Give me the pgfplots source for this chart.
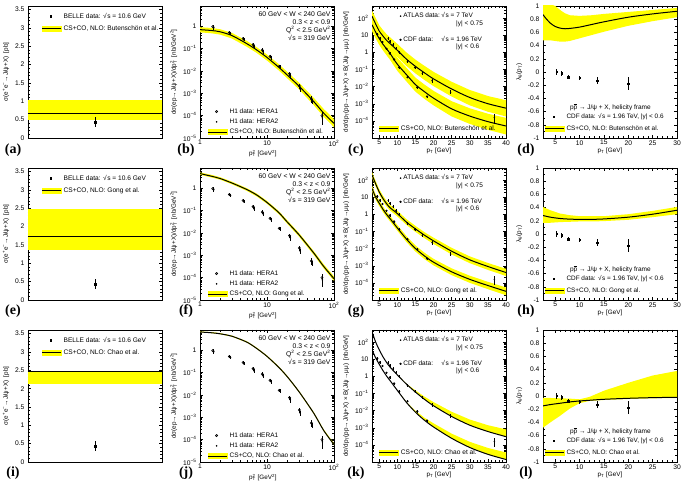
\documentclass[border=0pt]{standalone}
\usepackage{fontspec}
\setmainfont{Liberation Sans}
\newfontfamily\serifbf{Liberation Serif}
\usepackage{pgfplots}
\pgfplotsset{compat=1.18}
\usepackage{pgfplotstable}
\definecolor{bandyellow}{rgb}{1,1,0}
\newcommand{\pbar}{\mbox{$\overline{\mbox{p}}$}}
\newcommand{\ptsq}{p\rlap{\textsuperscript{2}}\textsubscript{T}}
\newcommand{\rts}{√\kern0.6pt s}

% ---------- e+e- : constant predictions ----------
\pgfplotstableread{
x c
0 0.68
1 0.68
}\thA
\pgfplotstableread{
x y
0 0.50
1 0.50
1 1.03
0 1.03
}\bdA
\pgfplotstableread{
x c
0 1.73
1 1.73
}\thE
\pgfplotstableread{
x y
0 1.37
1 1.37
1 2.48
0 2.48
}\bdE
\pgfplotstableread{
x c
0 2.46
1 2.46
}\thI
\pgfplotstableread{
x y
0 2.13
1 2.13
1 2.46
0 2.46
}\bdI
\pgfplotstableread{
x y e
0.5 0.43 0.13
}\belle

% ---------- photoproduction ----------
\pgfplotstableread{
x c
1 0.70
1.5 0.64
2 0.56
3 0.38
5 0.165
7 0.087
10 0.040
15 0.0145
20 0.0066
30 0.0021
50 0.00042
70 0.00013
100 0.000045
}\thB
\pgfplotstableread{
x y
1 0.90
1.5 0.83
2 0.73
3 0.50
5 0.22
7 0.115
10 0.054
15 0.020
20 0.0092
30 0.0030
50 0.00062
70 0.00020
100 0.00007
100 0.00003
70 0.00009
50 0.00029
30 0.0015
20 0.0047
15 0.0105
10 0.029
7 0.064
5 0.12
3 0.28
2 0.42
1.5 0.48
1 0.53
}\bdB
\pgfplotstableread{
x c
1 4.5
1.5 3.4
2 2.7
3 1.7
5 0.87
7 0.50
10 0.23
15 0.081
20 0.031
30 0.0083
50 0.00125
70 0.00032
100 0.00009
}\thF
\pgfplotstableread{
x y
1 5.1
1.5 3.9
2 3.1
3 1.95
5 1.0
7 0.58
10 0.27
15 0.095
20 0.037
30 0.0100
50 0.00152
70 0.00040
100 0.000112
100 0.000072
70 0.00026
50 0.00102
30 0.0069
20 0.026
15 0.069
10 0.20
7 0.43
5 0.76
3 1.5
2 2.4
1.5 3.0
1 4.0
}\bdF
\pgfplotstableread{
x c
1 6.5
1.5 6.0
2 5.4
3 4.2
5 2.3
7 1.2
10 0.53
15 0.17
20 0.066
30 0.014
50 0.0015
70 0.00026
100 0.00006
}\thJ
\pgfplotstableread{
x y
1 6.9
1.5 6.4
2 5.8
3 4.5
5 2.5
7 1.32
10 0.58
15 0.19
20 0.073
30 0.0155
50 0.00168
70 0.00029
100 0.000068
100 0.000055
70 0.00024
50 0.0014
30 0.013
20 0.062
15 0.16
10 0.50
7 1.15
5 2.2
3 4.0
2 5.2
1.5 5.8
1 6.3
}\bdJ
\pgfplotstableread{
x y e
1.55 0.95 0.20
2.75 0.52 0.09
4.4 0.28 0.05
6.2 0.15 0.03
8.5 0.085 0.018
11.1 0.045 0.009
15.2 0.016 0.003
21.7 0.0075 0.0018
30.4 0.0021 0.0006
46 0.00055 0.00018
66 0.00010 0.00005
}\hone
\pgfplotstableread{
x y e
1.6 0.85 0.15
2.85 0.46 0.07
4.5 0.25 0.04
6.4 0.12 0.025
8.8 0.07 0.015
11.4 0.040 0.008
15.6 0.015 0.003
22.3 0.006 0.0015
31 0.0016 0.0004
47 0.00045 0.00012
67 0.00008 0.00004
}\htwo

% ---------- hadroproduction: upper = ATLAS 7 TeV, lower = CDF 1.96 TeV ----------
\pgfplotstableread{
x c
3 126
4 45
5 17
6 9
7 5
8 3.2
10 1.3
12.5 0.40
15 0.15
17.5 0.063
20 0.028
25 0.0072
30 0.0023
35 0.0010
40 0.00055
}\thCu
\pgfplotstableread{
x y
3 270
4 100
5 38
6 20
7 11.5
8 7.4
10 3.1
12.5 0.98
15 0.37
17.5 0.16
20 0.072
25 0.019
30 0.0063
35 0.0028
40 0.0016
40 0.00018
35 0.00034
30 0.0008
25 0.0026
20 0.0105
17.5 0.024
15 0.058
12.5 0.16
10 0.53
8 1.35
7 2.1
6 3.9
5 7.5
4 20
3 55
}\bdCu
\pgfplotstableread{
x c
3 40
4 15
5 6.3
6 3.0
7 1.6
8 0.85
10 0.20
12.5 0.05
15 0.013
17.5 0.005
20 0.0021
25 0.0005
30 0.00019
35 0.00009
40 0.00005
}\thCl
\pgfplotstableread{
x y
3 90
4 34
5 14
6 6.8
7 3.7
8 2.0
10 0.48
12.5 0.125
15 0.033
17.5 0.013
20 0.0056
25 0.0014
30 0.00054
35 0.00026
40 0.00015
40 0.000016
35 0.00003
30 0.000066
25 0.00018
20 0.0008
17.5 0.0019
15 0.005
12.5 0.020
10 0.082
8 0.36
7 0.68
6 1.3
5 2.7
4 6.5
3 17
}\bdCl
\pgfplotstableread{
x c
3 200
4 60
5 20
6 8.5
7 4.2
8 2.4
10 1.1
12.5 0.35
15 0.14
17.5 0.06
20 0.028
25 0.007
30 0.0022
35 0.0009
40 0.0004
}\thGu
\pgfplotstableread{
x y
3 290
4 87
5 29
6 12.3
7 6.1
8 3.5
10 1.6
12.5 0.52
15 0.21
17.5 0.09
20 0.043
25 0.011
30 0.0035
35 0.00145
40 0.00066
40 0.00025
35 0.00057
30 0.0014
25 0.0045
20 0.0185
17.5 0.04
15 0.094
12.5 0.24
10 0.75
8 1.65
7 2.9
6 5.9
5 14
4 42
3 140
}\bdGu
\pgfplotstableread{
x c
3 32
4 10
5 4.4
6 2.0
7 1.0
8 0.55
10 0.16
12.5 0.036
15 0.010
17.5 0.0037
20 0.0016
25 0.00044
30 0.00016
35 0.00007
40 0.000032
}\thGl
\pgfplotstableread{
x y
3 46
4 14.5
5 6.4
6 2.9
7 1.45
8 0.8
10 0.235
12.5 0.054
15 0.0152
17.5 0.0057
20 0.0025
25 0.0007
30 0.00026
35 0.000115
40 0.000054
40 0.000019
35 0.000043
30 0.0001
25 0.00028
20 0.00104
17.5 0.0024
15 0.0067
12.5 0.024
10 0.11
8 0.38
7 0.69
6 1.38
5 3.05
4 7
3 22
}\bdGl
\pgfplotstableread{
x c
3 400
4 100
5 35
6 14
7 6.5
8 3.4
10 1.2
12.5 0.35
15 0.12
17.5 0.045
20 0.019
25 0.0045
30 0.0014
35 0.0006
40 0.0003
}\thKu
\pgfplotstableread{
x y
10 1.2
12.5 0.37
15 0.15
17.5 0.065
20 0.031
25 0.0085
30 0.003
35 0.0014
40 0.0008
40 0.0003
35 0.0006
30 0.0014
25 0.0045
20 0.019
17.5 0.045
15 0.12
12.5 0.35
10 1.2
}\bdKu
\pgfplotstableread{
x c
3 35
4 12
5 5
6 2.2
7 1.05
8 0.55
10 0.15
12.5 0.03
15 0.008
17.5 0.0027
20 0.0011
25 0.00024
30 0.00007
35 0.000028
40 0.000014
}\thKl
\pgfplotstableread{
x y
10 0.15
12.5 0.032
15 0.0098
17.5 0.0038
20 0.0018
25 0.00045
30 0.00015
35 0.000066
40 0.000036
40 0.000014
35 0.000028
30 0.00007
25 0.00024
20 0.0011
17.5 0.0027
15 0.008
12.5 0.03
10 0.15
}\bdKl
\pgfplotstableread{
x y e
7.5 6.3 1.3
7.9 4.4 0.9
8.85 2.75 0.55
9.6 1.6 0.3
10.5 1.0 0.2
12.8 0.30 0.06
14.8 0.13 0.026
16.9 0.058 0.012
19.6 0.022 0.005
24.7 0.0047 0.0012
36.8 0.00016 0.00008
}\atlas
\pgfplotstableread{
x y e
4.45 11 2
5.2 6.5 1.1
5.9 4.0 0.6
7.0 1.6 0.25
7.9 0.85 0.12
9.1 0.38 0.05
10.5 0.13 0.02
12.8 0.035 0.005
15.5 0.009 0.0015
18.2 0.0026 0.0004
}\cdf

% ---------- polarization ----------
\pgfplotstableread{
x c
2.5 0.87
3 0.82
4 0.74
5 0.69
6 0.665
7 0.655
8 0.66
10 0.68
12.5 0.72
15 0.76
20 0.83
25 0.88
30 0.92
}\thD
\pgfplotstableread{
x y
2.5 1.05
3 1.05
4 1.03
5 1.0
6 0.94
7 0.89
8 0.86
10 0.85
12.5 0.86
15 0.88
20 0.91
25 0.94
30 0.97
30 0.83
25 0.77
20 0.70
15 0.61
12.5 0.56
10 0.51
8 0.47
7 0.46
6 0.46
5 0.47
4 0.48
3 0.48
2.5 0.48
}\bdD
\pgfplotstableread{
x c
2.5 0.28
4 0.255
6 0.235
8 0.225
10 0.222
12.5 0.222
15 0.228
20 0.255
25 0.30
30 0.36
}\thH
\pgfplotstableread{
x y
2.5 0.41
4 0.36
6 0.31
8 0.285
10 0.27
12.5 0.27
15 0.27
20 0.30
25 0.35
30 0.41
30 0.30
25 0.255
20 0.215
15 0.195
12.5 0.19
10 0.19
8 0.185
6 0.18
4 0.17
2.5 0.17
}\bdH
\pgfplotstableread{
x c
2.5 -0.15
4 -0.13
6 -0.11
8 -0.09
10 -0.075
12 -0.065
15 -0.05
20 -0.035
25 -0.025
30 -0.02
}\thL
\pgfplotstableread{
x y
2.5 -0.03
4 -0.03
6 -0.035
8 -0.04
10 -0.05
12 -0.015
15 0.08
20 0.20
25 0.31
30 0.38
30 -0.03
25 -0.035
20 -0.045
15 -0.06
12 -0.075
10 -0.11
8 -0.19
6 -0.30
4 -0.40
2.5 -0.48
}\bdL
\pgfplotstableread{
x y e
5.3 0.00 0.04
6.3 -0.02 0.04
7.7 -0.08 0.03
10.0 -0.09 0.03
13.6 -0.13 0.05
20.0 -0.18 0.10
}\pol

\pgfplotsset{
  panel/.style={
    scale only axis, width=134pt, height=132pt, anchor=north west,
    tick label style={font=\fontsize{6.7}{7.5}\selectfont},
    xticklabel style={yshift=1.2pt},
    label style={font=\fontsize{6.3}{7}\selectfont},
    /pgf/number format/assume math mode=true,
    major tick length=3pt, minor tick length=1.6pt,
    every tick/.style={black, line width=0.4pt},
    axis line style={line width=0.6pt},
    legend style={draw=none, fill=none, font=\fontsize{6.6}{7.6}\selectfont, inner sep=0pt, row sep=1.5pt},
    legend cell align=left,
    xlabel style={at={(axis description cs:0.5,-0.072)}, anchor=north, inner sep=0pt},
    ylabel style={yshift=-1pt},
  },
  bandleg/.style={legend image code/.code={\fill[bandyellow] (0pt,-2.4pt) rectangle (19pt,2.4pt); \draw[black, line width=1pt] (0pt,0pt) -- (19pt,0pt);}},
  th/.style={black, line width=1pt, smooth, forget plot},
  pts/.style={only marks, black, forget plot, error bars/y dir=both, error bars/y explicit, error bars/error mark=none, error bars/error bar style={line width=0.45pt, black}},
  bellepanel/.style={panel, xmin=0, xmax=1, ymin=0, ymax=3.6, xtick=\empty,
    ytick={0,0.5,1,1.5,2,2.5,3,3.5}, minor y tick num=4,
    ylabel={σ(e\textsuperscript{+}e\textsuperscript{−}→J/ψ+X)\ \ [pb]},
    legend style={at={(0.1,0.965)}, anchor=north west, row sep=2pt}},
  hpanel/.style={panel,
    xmin=1, xmax=100, ymin=1e-5, ymax=8, xtick={1,10,100},
    xticklabels={1,10,10\textsuperscript{2}},
    ytick={1e-5,1e-4,1e-3,1e-2,1e-1,1},
    yticklabels={10\textsuperscript{−5},10\textsuperscript{−4},10\textsuperscript{−3},10\textsuperscript{−2},10\textsuperscript{−1},1},
    minor xtick={2,3,4,5,6,7,8,9,20,30,40,50,60,70,80,90},
    minor ytick={2e-5,3e-5,4e-5,5e-5,6e-5,7e-5,8e-5,9e-5,2e-4,3e-4,4e-4,5e-4,6e-4,7e-4,8e-4,9e-4,0.002,0.003,0.004,0.005,0.006,0.007,0.008,0.009,0.02,0.03,0.04,0.05,0.06,0.07,0.08,0.09,0.2,0.3,0.4,0.5,0.6,0.7,0.8,0.9,2,3,4,5,6,7},
    xlabel={\ptsq\ [GeV\textsuperscript{2}]},
    xlabel style={at={(axis description cs:0.47,-0.09)}},
    ylabel={dσ(ep→J/ψ+X)/d\ptsq\ \ [nb/GeV\textsuperscript{2}]},
    legend style={at={(0.055,0.005)}, anchor=south west, row sep=0pt, font=\fontsize{6.5}{7.2}\selectfont}},
  ppanel/.style={panel, xmin=3, xmax=40, ymin=1e-5, ymax=500,
    xtick={5,10,15,20,25,30,35,40}, minor x tick num=4,
    ytick={1e-4,1e-3,1e-2,1e-1,1,10,100},
    yticklabels={10\textsuperscript{−4},10\textsuperscript{−3},10\textsuperscript{−2},10\textsuperscript{−1},1,10,10\textsuperscript{2}},
    minor ytick={2e-5,3e-5,4e-5,5e-5,6e-5,7e-5,8e-5,9e-5,2e-4,3e-4,4e-4,5e-4,6e-4,7e-4,8e-4,9e-4,0.002,0.003,0.004,0.005,0.006,0.007,0.008,0.009,0.02,0.03,0.04,0.05,0.06,0.07,0.08,0.09,0.2,0.3,0.4,0.5,0.6,0.7,0.8,0.9,2,3,4,5,6,7,8,9,20,30,40,50,60,70,80,90,200,300,400},
    xlabel={p\textsubscript{T} [GeV]},
    ylabel={dσ/dp\textsubscript{T}(pp→J/ψ+X) × B(J/ψ→μμ)\ \ [nb/GeV]},
    legend style={at={(0.205,0.965)}, anchor=north west, row sep=13pt, font=\fontsize{6.5}{7.5}\selectfont}},
  legpanel/.style={panel, hide axis, xmin=0, xmax=1, ymin=0, ymax=1,
    legend style={at={(0.05,0.03)}, anchor=south west}},
  lpanel/.style={panel, xmin=2.5, xmax=30, ymin=-1, ymax=1,
    xtick={5,10,15,20,25,30}, minor x tick num=4,
    ytick={-1,-0.8,-0.6,-0.4,-0.2,0,0.2,0.4,0.6,0.8,1}, minor y tick num=1,
    xlabel={p\textsubscript{T} [GeV]},
    ylabel={λ\textsubscript{θ}(p\textsubscript{T})},
    legend style={at={(0.01,0.03)}, anchor=south west, row sep=2pt, font=\fontsize{6.4}{7.4}\selectfont}},
}

\newcommand{\bandplot}[2]{%
  \addplot[fill=bandyellow, draw=none, forget plot] table[x=x,y=y]{#1};
  \addplot[th] table[x=x,y=c]{#2};
}
\newcommand{\belledata}{%
  \addplot[pts, mark=square*, mark size=0.8pt] table[x=x,y=y,y error=e]{\belle};
  \addlegendimage{only marks, mark=square*, mark size=0.8pt, black}
  \addlegendentry{BELLE data: \rts\ = 10.6 GeV}
}
\newcommand{\hdata}{%
  \addplot[pts, mark=o, mark size=1.1pt, mark options={line width=0.6pt}] table[x=x,y=y,y error=e]{\hone};
  \addplot[pts, mark=*, mark size=0.6pt] table[x=x,y=y,y error=e]{\htwo};
  \addlegendimage{only marks, mark=o, mark size=1.1pt, mark options={line width=0.6pt}, black}
  \addlegendentry{H1 data: HERA1}
  \addlegendimage{only marks, mark=*, mark size=0.6pt, black}
  \addlegendentry{H1 data: HERA2}
}
\newcommand{\htext}{%
  \node[anchor=north east, align=right, inner sep=0pt, font=\fontsize{6.8}{8}\selectfont] at (rel axis cs:0.975,0.955)
   {60 GeV < W < 240 GeV\\0.3 < z < 0.9\\Q\textsuperscript{2} < 2.5 GeV\textsuperscript{2}\\\rts\ = 319 GeV};
}
\newcommand{\ppdata}{%
  \addplot[pts, mark=*, mark size=0.55pt] table[x=x,y=y,y error=e]{\atlas};
  \addplot[pts, mark=*, mark size=0.9pt] table[x=x,y=y,y error=e]{\cdf};
  \addlegendimage{only marks, mark=*, mark size=0.55pt, black}
  \addlegendentry{\makebox[38pt][l]{ATLAS data:}\rts\ = 7 TeV}
  \addlegendimage{only marks, mark=*, mark size=0.9pt, black}
  \addlegendentry{\makebox[38pt][l]{CDF data:}\rts\ = 1.96 TeV}
  \node[anchor=west, inner sep=0pt, font=\fontsize{6.5}{7.5}\selectfont] at (rel axis cs:0.627,0.862) {|y| < 0.75};
  \node[anchor=west, inner sep=0pt, font=\fontsize{6.5}{7.5}\selectfont] at (rel axis cs:0.627,0.69) {|y| < 0.6};
}
\newcommand{\poldata}{%
  \addplot[pts, mark=square*, mark size=0.7pt] table[x=x,y=y,y error=e]{\pol};
  \node[anchor=west, inner sep=0pt, font=\fontsize{6.5}{7.5}\selectfont] at (rel axis cs:0.2,0.235) {p\pbar\ → J/ψ + X, helicity frame};
  \addlegendimage{only marks, mark=square*, mark size=0.7pt, black}
  \addlegendentry{CDF data: \rts\ = 1.96 TeV, |y| < 0.6}
}
\newcommand{\legaxis}[2]{%
  \begin{axis}[legpanel, at={#1}]
    \addplot[draw=none, forget plot] coordinates {(0,0) (1,1)};
    \addlegendimage{bandleg}\addlegendentry{#2}
  \end{axis}
}

\begin{document}
\begin{tikzpicture}[x=1pt,y=1pt]

% ================= Row 1: Butenschon =================
\begin{axis}[bellepanel, at={(28pt,478pt)}]
  \bandplot{\bdA}{\thA}
  \belledata
  \addlegendimage{bandleg}\addlegendentry{CS+CO, NLO: Butenschön et al.}
\end{axis}
\begin{axis}[xmode=log, ymode=log, hpanel, at={(200pt,478pt)}]
  \bandplot{\bdB}{\thB}
  \hdata
  \addlegendimage{bandleg}\addlegendentry{CS+CO, NLO: Butenschön et al.}
  \htext
\end{axis}
\begin{axis}[ymode=log, ppanel, at={(372pt,478pt)}]
  \bandplot{\bdCu}{\thCu}
  \bandplot{\bdCl}{\thCl}
  \ppdata
\end{axis}
\legaxis{(372pt,478pt)}{CS+CO, NLO: Butenschön et al.}
\begin{axis}[lpanel, at={(543pt,478pt)}]
  \bandplot{\bdD}{\thD}
  \poldata
  \addlegendimage{bandleg}\addlegendentry{CS+CO, NLO: Butenschön et al.}
\end{axis}

% ================= Row 2: Gong =================
\begin{axis}[bellepanel, at={(28pt,316pt)}]
  \bandplot{\bdE}{\thE}
  \belledata
  \addlegendimage{bandleg}\addlegendentry{CS+CO, NLO: Gong et al.}
\end{axis}
\begin{axis}[xmode=log, ymode=log, hpanel, at={(200pt,316pt)}]
  \bandplot{\bdF}{\thF}
  \hdata
  \addlegendimage{bandleg}\addlegendentry{CS+CO, NLO: Gong et al.}
  \htext
\end{axis}
\begin{axis}[ymode=log, ppanel, at={(372pt,316pt)}]
  \bandplot{\bdGu}{\thGu}
  \bandplot{\bdGl}{\thGl}
  \ppdata
\end{axis}
\legaxis{(372pt,316pt)}{CS+CO, NLO: Gong et al.}
\begin{axis}[lpanel, at={(543pt,316pt)}]
  \bandplot{\bdH}{\thH}
  \poldata
  \addlegendimage{bandleg}\addlegendentry{CS+CO, NLO: Gong et al.}
\end{axis}

% ================= Row 3: Chao =================
\begin{axis}[bellepanel, at={(28pt,154pt)}]
  \bandplot{\bdI}{\thI}
  \belledata
  \addlegendimage{bandleg}\addlegendentry{CS+CO, NLO: Chao et al.}
\end{axis}
\begin{axis}[xmode=log, ymode=log, hpanel, at={(200pt,154pt)}]
  \bandplot{\bdJ}{\thJ}
  \hdata
  \addlegendimage{bandleg}\addlegendentry{CS+CO, NLO: Chao et al.}
  \htext
\end{axis}
\begin{axis}[ymode=log, ppanel, at={(372pt,154pt)}]
  \bandplot{\bdKu}{\thKu}
  \bandplot{\bdKl}{\thKl}
  \ppdata
\end{axis}
\legaxis{(372pt,154pt)}{CS+CO, NLO: Chao et al.}
\begin{axis}[lpanel, at={(543pt,154pt)}]
  \bandplot{\bdL}{\thL}
  \poldata
  \addlegendimage{bandleg}\addlegendentry{CS+CO, NLO: Chao et al.}
\end{axis}

% panel letters
\begin{scope}[every node/.style={font=\serifbf\bfseries\fontsize{14}{14}\selectfont, inner sep=0pt}]
\node at (13,334) {(a)}; \node at (186,334) {(b)}; \node at (356,334) {(c)}; \node at (526,334) {(d)};
\node at (13,173) {(e)}; \node at (186,173) {(f)}; \node at (356,173) {(g)}; \node at (526,173) {(h)};
\node at (13,11) {(i)}; \node at (186,11) {(j)}; \node at (356,11) {(k)}; \node at (526,11) {(l)};
\end{scope}
\pgfresetboundingbox
\path[use as bounding box] (0,0) rectangle (685,484);
\end{tikzpicture}
\end{document}
